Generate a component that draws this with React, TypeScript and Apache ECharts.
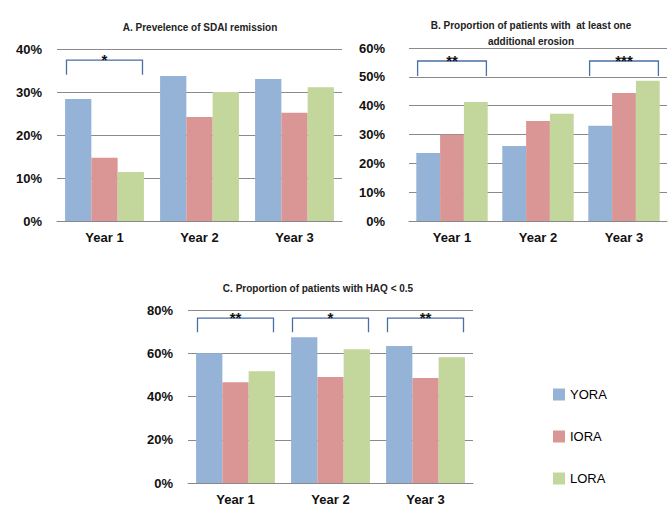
import React, { useEffect, useRef } from "react";
import * as echarts from "echarts";

const categories = ["Year 1", "Year 2", "Year 3"];
const seriesNames = ["YORA", "IORA", "LORA"];
const colors = ["#95b3d7", "#d99694", "#c3d69b"];

// Panel A: Prevalence of SDAI remission (%)
const aYORA = [28.4, 33.7, 33.0];
const aIORA = [14.7, 24.2, 25.2];
const aLORA = [11.4, 30.0, 31.1];
// Panel B: at least one additional erosion (%)
const bYORA = [23.6, 26.0, 33.0];
const bIORA = [29.9, 34.7, 44.4];
const bLORA = [41.3, 37.2, 48.6];
// Panel C: HAQ < 0.5 (%)
const cYORA = [60.0, 67.4, 63.3];
const cIORA = [46.6, 49.0, 48.5];
const cLORA = [51.7, 61.9, 58.2];

// Significance brackets: category, top value, leg end value, label
const sigA = [["Year 1", 37.4, 34.0, "*"]];
const sigB = [
  ["Year 1", 55.5, 50.3, "**"],
  ["Year 3", 55.5, 50.3, "***"],
];
const sigC = [
  ["Year 1", 76.2, 69.7, "**"],
  ["Year 2", 76.2, 69.7, "*"],
  ["Year 3", 76.2, 69.7, "**"],
];

const titles = [
  "A. Prevelence of SDAI remission",
  "B. Proportion of patients with  at least one\nadditional erosion",
  "C. Proportion of patients with HAQ < 0.5",
];

const FONT = "Liberation Sans, Arial, sans-serif";

function makeBracketRenderer(sig: any[]) {
  return (params: any, api: any) => {
    const item = sig[params.dataIndex];
    const c = api.coord([api.value(0), api.value(1)]);
    const leg = api.coord([api.value(0), api.value(2)]);
    const band = api.size([1, 0])[0];
    const half = band * 0.4;
    return {
      type: "group",
      children: [
        {
          type: "polyline",
          shape: {
            points: [
              [c[0] - half, leg[1]],
              [c[0] - half, c[1]],
              [c[0] + half, c[1]],
              [c[0] + half, leg[1]],
            ],
          },
          style: { stroke: "#4a6fa5", lineWidth: 1.3, fill: null },
        },
        {
          type: "text",
          style: {
            text: item[3],
            x: c[0],
            y: c[1] + 7,
            align: "center",
            verticalAlign: "bottom",
            font: "bold 15px " + FONT,
            fill: "#111",
          },
        },
      ],
    };
  };
}

export default function App() {
  const ref = useRef<HTMLDivElement>(null);
  useEffect(() => {
    if (!ref.current) return;
    const chart = echarts.init(ref.current, null, { renderer: "svg" });
    const grids = [
      { left: 57, top: 49, width: 285, height: 172 },
      { left: 409, top: 48, width: 258, height: 173 },
      { left: 188, top: 310, width: 285, height: 173 },
    ];
    const yCfg = [
      { max: 40, interval: 10, margin: 15 },
      { max: 60, interval: 10, margin: 24 },
      { max: 80, interval: 20, margin: 15 },
    ];
    const data = [
      [aYORA, aIORA, aLORA],
      [bYORA, bIORA, bLORA],
      [cYORA, cIORA, cLORA],
    ];
    const sigs = [sigA, sigB, sigC];
    const series: any[] = [];
    data.forEach((group, gi) => {
      group.forEach((vals, si) => {
        series.push({
          type: "bar",
          name: seriesNames[si],
          xAxisIndex: gi,
          yAxisIndex: gi,
          data: vals,
          barGap: "0%",
          barCategoryGap: "17%",
          itemStyle: { color: colors[si] },
        });
      });
      series.push({
        type: "custom",
        name: "sig" + gi,
        xAxisIndex: gi,
        yAxisIndex: gi,
        data: sigs[gi].map((s) => [s[0], s[1], s[2]]),
        renderItem: makeBracketRenderer(sigs[gi]),
        z: 5,
      });
    });
    chart.setOption({
      animation: false,
      backgroundColor: "#fff",
      title: [
        { text: titles[0], left: 195, top: 14, textAlign: "center" },
        { text: titles[1], left: 526, top: 12, textAlign: "center" },
        { text: titles[2], left: 313, top: 275, textAlign: "center" },
      ].map((t) => ({
        ...t,
        textStyle: {
          fontFamily: FONT,
          fontSize: 10,
          fontWeight: "bold",
          color: "#222",
          lineHeight: 16,
        },
      })),
      legend: {
        data: seriesNames,
        orient: "vertical",
        left: 548,
        top: 383,
        itemWidth: 12,
        itemHeight: 12,
        itemGap: 29,
        icon: "rect",
        textStyle: { fontFamily: FONT, fontSize: 13, color: "#000" },
      },
      grid: grids,
      xAxis: grids.map((_, i) => ({
        type: "category",
        gridIndex: i,
        data: categories,
        axisLine: { lineStyle: { color: "#888" } },
        axisTick: { show: false },
        axisLabel: {
          fontFamily: FONT,
          fontSize: 13,
          fontWeight: "bold",
          color: "#111",
          margin: 10,
        },
      })),
      yAxis: grids.map((_, i) => ({
        type: "value",
        gridIndex: i,
        min: 0,
        max: yCfg[i].max,
        interval: yCfg[i].interval,
        axisLine: { show: false },
        axisTick: { show: false },
        splitLine: { lineStyle: { color: "#8a8a8a" } },
        axisLabel: {
          formatter: "{value}%",
          fontFamily: FONT,
          fontSize: 13,
          fontWeight: "bold",
          color: "#111",
          margin: yCfg[i].margin,
        },
      })),
      series,
    });
    return () => chart.dispose();
  }, []);
  return (
    <div
      ref={ref}
      style={{ position: "absolute", left: 0, top: 0, width: 668, height: 507 }}
    />
  );
}
